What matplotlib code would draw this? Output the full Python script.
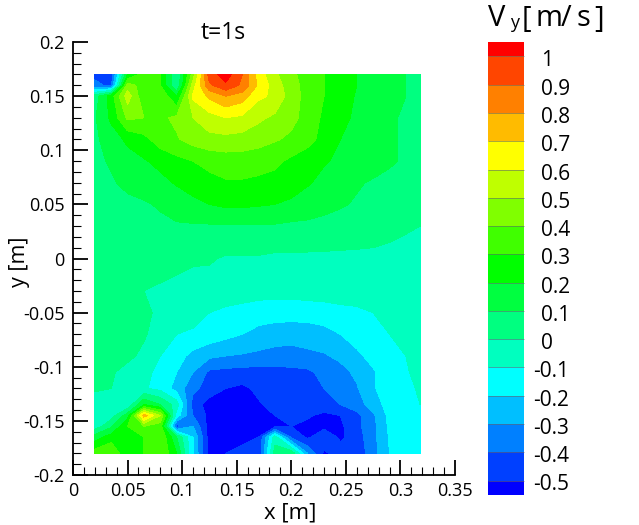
import numpy as np
import matplotlib
matplotlib.use("Agg")
import matplotlib.pyplot as plt

plt.rcParams["font.family"] = ["Open Sans", "DejaVu Sans"]

x = [0.02, 0.035, 0.05, 0.065, 0.08, 0.095, 0.11, 0.125, 0.14, 0.155, 0.17,
     0.185, 0.2, 0.215, 0.23, 0.245, 0.26, 0.275, 0.29, 0.305, 0.318]
y = [0.17, 0.16, 0.15, 0.13, 0.11, 0.09, 0.07, 0.05, 0.03, 0, -0.03, -0.05,
     -0.07, -0.09, -0.105, -0.12, -0.135, -0.145, -0.155, -0.165, -0.18]

# velocity, one row per y
vy = [
    [-.42, -.46, .2, .35, .3, .0, .45, .95, 1.05, .9, .65, .52, .42, .36, .3, .25, .2, .15, .12, .1, .08],
    [-.38, -.42, .45, .35, .3, .0, .55, .88, .98, .88, .68, .55, .44, .36, .3, .25, .2, .15, .12, .1, .08],
    [.05, .25, .55, .32, .38, .2, .62, .72, .8, .75, .62, .58, .45, .36, .3, .25, .19, .15, .12, .1, .08],
    [.09, .22, .42, .4, .38, .42, .5, .56, .6, .58, .52, .48, .43, .36, .28, .23, .18, .14, .11, .09, .08],
    [.08, .15, .22, .27, .35, .39, .44, .47, .47, .46, .44, .41, .38, .33, .27, .2, .17, .13, .11, .09, .07],
    [.08, .11, .16, .19, .23, .27, .3, .33, .35, .35, .34, .32, .28, .25, .21, .18, .16, .14, .11, .09, .07],
    [.08, .09, .12, .14, .17, .21, .25, .27, .29, .29, .28, .27, .25, .21, .17, .14, .11, .09, .08, .07, .06],
    [.07, .07, .08, .09, .11, .14, .17, .2, .22, .22, .21, .2, .18, .15, .13, .11, .09, .08, .07, .06, .05],
    [.05, .06, .06, .07, .08, .09, .09, .09, .09, .09, .09, .09, .08, .08, .07, .06, .05, .04, .03, .01, .0],
    [.05, .05, .05, .04, .03, .02, .01, .01, -.01, -.01, -.01, -.02, -.02, -.02, -.02, -.02, -.02, -.02, -.03, -.03, -.03],
    [.05, .04, .02, .0, -.01, -.02, -.03, -.04, -.05, -.06, -.07, -.07, -.07, -.06, -.06, -.05, -.05, -.04, -.04, -.03, -.03],
    [.05, .04, .02, .01, -.01, -.03, -.05, -.1, -.12, -.13, -.14, -.15, -.15, -.15, -.14, -.13, -.12, -.1, -.07, -.05, -.03],
    [.05, .04, .02, .01, -.04, -.1, -.12, -.14, -.17, -.2, -.24, -.26, -.27, -.26, -.24, -.2, -.16, -.13, -.1, -.07, -.03],
    [.04, .03, .02, -.02, -.1, -.16, -.23, -.28, -.3, -.31, -.32, -.33, -.33, -.32, -.31, -.28, -.22, -.17, -.13, -.1, -.05],
    [.03, .01, -.03, -.08, -.12, -.2, -.3, -.42, -.43, -.44, -.44, -.44, -.43, -.42, -.37, -.33, -.28, -.21, -.15, -.11, -.07],
    [.02, .0, -.04, -.09, -.13, -.24, -.37, -.45, -.5, -.52, -.48, -.47, -.46, -.45, -.4, -.36, -.31, -.21, -.15, -.12, -.09],
    [-.08, -.07, -.08, .2, .1, -.05, -.45, -.54, -.56, -.56, -.51, -.47, -.46, -.46, -.45, -.4, -.35, -.25, -.16, -.12, -.1],
    [-.08, -.05, .15, .75, .5, -.15, -.4, -.53, -.56, -.56, -.55, -.5, -.47, -.49, -.52, -.5, -.43, -.32, -.17, -.12, -.1],
    [-.06, .08, .3, .4, .35, -.45, -.3, -.55, -.56, -.56, -.54, -.53, -.5, -.52, -.53, -.52, -.43, -.33, -.18, -.13, -.11],
    [.15, .25, .25, .3, .4, .1, -.2, -.55, -.55, -.55, -.5, -.05, -.42, -.52, -.42, -.52, -.45, -.33, -.19, -.13, -.11],
    [.35, .4, .2, .3, .4, .2, -.2, -.53, -.5, -.45, -.48, .05, .08, -.3, -.52, -.45, -.47, -.34, -.2, -.13, -.11],
]

levels = [-0.5, -0.4, -0.3, -0.2, -0.1, 0, 0.1, 0.2, 0.3, 0.4, 0.5, 0.6, 0.7, 0.8, 0.9, 1]
level_labels = ["-0.5", "-0.4", "-0.3", "-0.2", "-0.1", "0", "0.1", "0.2", "0.3", "0.4", "0.5", "0.6", "0.7", "0.8", "0.9", "1"]
colors = ["#0000ff", "#0040ff", "#0080ff", "#00bfff", "#00ffff", "#00ffbf", "#00ff80", "#00ff40", "#00ff00",
          "#40ff00", "#80ff00", "#bfff00", "#ffff00", "#ffbb00", "#ff8000", "#ff4500", "#ff0000"]

xticks = [0, 0.05, 0.1, 0.15, 0.2, 0.25, 0.3, 0.35]
xtick_labels = ["0", "0.05", "0.1", "0.15", "0.2", "0.25", "0.3", "0.35"]
yticks = [-0.2, -0.15, -0.1, -0.05, 0, 0.05, 0.1, 0.15, 0.2]
ytick_labels = ["-0.2", "-0.15", "-0.1", "-0.05", "0", "0.05", "0.1", "0.15", "0.2"]

W, H = 639, 525
fig = plt.figure(figsize=(W / 100, H / 100), dpi=100)
ax = fig.add_axes([73 / W, 1 - 475 / H, (455 - 73) / W, (475 - 42) / H])

cs = ax.contourf(x, y, np.array(vy), levels=levels, colors=colors[1:-1], extend="both")
cs.cmap.set_under(colors[0])
cs.cmap.set_over(colors[-1])
cs.changed()

ax.set_xlim(0, 0.35)
ax.set_ylim(-0.2, 0.2)
ax.spines["top"].set_visible(False)
ax.spines["right"].set_visible(False)
ax.set_xticks(xticks, xtick_labels)
ax.set_yticks(yticks, ytick_labels)
ax.set_xticks(np.arange(0, 0.351, 0.01), minor=True)
ax.set_yticks(np.arange(-0.2, 0.201, 0.01), minor=True)
ax.tick_params(which="major", direction="in", length=11, width=1.3, labelsize=13, pad=6)
ax.tick_params(which="minor", direction="in", length=5.5, width=0.8)
ax.tick_params(axis="x", which="major", pad=5)
for s in ["left", "bottom"]:
    ax.spines[s].set_linewidth(1.3)

fig.text(223 / W, 1 - 33 / H, "t=1s", fontsize=16.5, ha="center", va="center")
fig.text(290 / W, 1 - 513 / H, "x [m]", fontsize=16, ha="center", va="center")
fig.text(19 / W, 1 - 262 / H, "y [m]", fontsize=15.5, ha="center", va="center", rotation=90)

# colour bar
cax = fig.add_axes([488 / W, 1 - 495 / H, 35.5 / W, (495 - 42) / H])
cb = fig.colorbar(cs, cax=cax, ticks=levels, extend="both", extendrect=True,
                  extendfrac=14.5 / 424, drawedges=True)
cb.outline.set_visible(False)
cb.dividers.set_color("#666666")
cb.dividers.set_linewidth(0.4)
cb.ax.tick_params(length=0, labelright=False)
for lev, lab in zip(levels, level_labels):
    px = 533.5 if lab.startswith("-") else 541
    ypx = 481 - (lev + 0.5) / 1.5 * (481 - 57) + 4
    fig.text(px / W, 1 - ypx / H, lab, fontsize=15, ha="left", va="center")

# title of the bar, letters spaced apart by hand
fig.text(488 / W, 1 - 19 / H, "V", fontsize=21, ha="left", va="center")
fig.text(510 / W, 1 - 23 / H, "y", fontsize=13, ha="left", va="center")
for px, ch in zip([522, 535, 561, 577, 594], "[m/s]"):
    fig.text(px / W, 1 - 19 / H, ch, fontsize=21, ha="left", va="center")

fig.savefig("out.png", dpi=100)
